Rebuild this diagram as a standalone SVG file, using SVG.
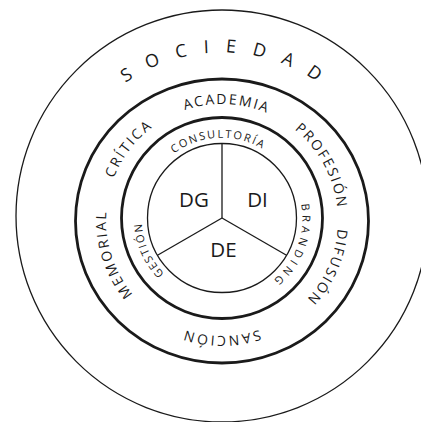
<svg xmlns="http://www.w3.org/2000/svg" width="421" height="422" viewBox="0 0 421 422">
<style>
.thin{fill:none;stroke:#1a1a1a;stroke-width:1.3}
.thick{fill:none;stroke:#1a1a1a;stroke-width:2.8}
.ring{font-family:"Open Sans","Noto Sans",sans-serif;fill:#1a1a1a;font-size:14px;letter-spacing:1.9px}
.inner{font-family:"Open Sans","Noto Sans",sans-serif;fill:#1a1a1a;font-size:11px;letter-spacing:1.5px}
.big{font-family:"Open Sans","Noto Sans",sans-serif;fill:#1a1a1a;font-size:18px;letter-spacing:16.5px}
.core{font-family:"Open Sans","Noto Sans",sans-serif;fill:#1a1a1a;font-size:20.5px;text-anchor:middle}
</style>
<defs>
<path id="pOuter" d="M54.5 220 A167.5 167.5 0 0 1 389.5 220"/>
<path id="pMid" d="M164 320.46 A116 116 0 1 1 280 119.54 A116 116 0 1 1 164 320.46"/>
<path id="pIn" d="M182 287.28 A80 80 0 1 1 262 148.72 A80 80 0 1 1 182 287.28"/>
</defs>
<rect width="421" height="422" fill="#ffffff"/>
<g id="sociedad">
<circle class="thin" cx="222" cy="216" r="206"/>
<text class="big"><textPath href="#pOuter" startOffset="270" text-anchor="middle">SOCIEDAD</textPath></text>
</g>
<g id="ring-middle">
<ellipse class="thick" cx="222" cy="221" rx="146.5" ry="142"/>
<text class="ring"><textPath href="#pMid" startOffset="308" text-anchor="middle">ACADEMIA</textPath></text>
<text class="ring" style="letter-spacing:2.3px"><textPath href="#pMid" startOffset="197" text-anchor="middle">CRÍTICA</textPath></text>
<text class="ring"><textPath href="#pMid" startOffset="428" text-anchor="middle">PROFESIÓN</textPath></text>
<text class="ring"><textPath href="#pMid" startOffset="534" text-anchor="middle">DIFUSIÓN</textPath></text>
<text class="ring" style="letter-spacing:2.2px"><textPath href="#pMid" startOffset="668" text-anchor="middle">SANCIÓN</textPath></text>
<text class="ring" style="letter-spacing:2.2px"><textPath href="#pMid" startOffset="86" text-anchor="middle">MEMORIAL</textPath></text>
</g>
<g id="ring-inner">
<circle class="thick" cx="222" cy="218" r="100.5"/>
<text class="inner" style="letter-spacing:1.8px"><textPath href="#pIn" startOffset="206" text-anchor="middle">CONSULTORÍA</textPath></text>
<text class="inner" style="letter-spacing:4px"><textPath href="#pIn" startOffset="366" text-anchor="middle">BRANDING</textPath></text>
<text class="inner" style="letter-spacing:1.6px"><textPath href="#pIn" startOffset="51" text-anchor="middle">GESTIÓN</textPath></text>
</g>
<g id="core">
<circle class="thin" cx="222" cy="218" r="74.5"/>
</g>
<g id="connectors">
<line class="thin" x1="222" y1="218" x2="222" y2="143.5"/>
<line class="thin" x1="222" y1="218" x2="286.5" y2="255.25"/>
<line class="thin" x1="222" y1="218" x2="157.5" y2="255.25"/>
</g>
<g id="node-dg"><text class="core" x="194" y="207">DG</text></g>
<g id="node-di"><text class="core" x="257.5" y="207">DI</text></g>
<g id="node-de"><text class="core" x="223.5" y="257">DE</text></g>
</svg>
